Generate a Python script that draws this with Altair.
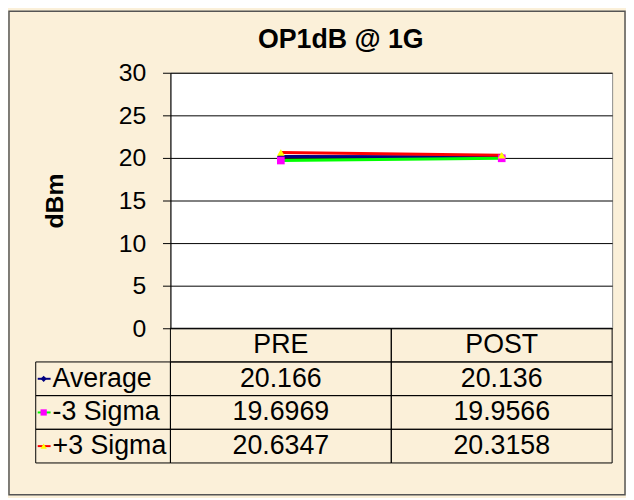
import altair as alt
import pandas as pd

# ---------------- data ----------------
chart_title = "OP1dB @ 1G"
y_title = "dBm"
categories = ["PRE", "POST"]
series = ["Average", "-3 Sigma", "+3 Sigma"]
avg_vals = [20.166, 20.136]
minus3_vals = [19.6969, 19.9566]
plus3_vals = [20.6347, 20.3158]
y_ticks = [0, 5, 10, 15, 20, 25, 30]

line_colors = ["#000080", "#00FF00", "#FF0000"]
marker_fills = ["#000080", "#FF00FF", "#FFFF00"]
marker_shapes = ["diamond", "square", "triangle-up"]

# ---------------- layout ----------------
FONT = "Liberation Sans"
FS = 25
TFS = 27                 # table font size
W, H = 446, 258          # plot area
TABLE_H = 136            # table under the plot
LABEL_COL = 136          # width of row-label column (left of plot)
BG = "#FBF0D9"

values_by_series = dict(zip(series, [avg_vals, minus3_vals, plus3_vals]))
rows = ["header"] + series

pts = pd.DataFrame(
    [{"series": s, "cat": c, "value": v}
     for s in series for c, v in zip(categories, values_by_series[s])]
)
cells = pd.DataFrame(
    [{"row": "header", "cat": c, "txt": c} for c in categories]
    + [{"row": s, "cat": c, "txt": str(v)}
       for s in series for c, v in zip(categories, values_by_series[s])]
)
labels = pd.DataFrame({"row": series, "series": series})

x_scale = alt.Scale(type="band", domain=categories, paddingInner=0, paddingOuter=0)
x_enc = alt.X("cat:N", scale=x_scale, axis=None)
row_scale = alt.Scale(type="band", domain=rows, range=[H, H + TABLE_H],
                      paddingInner=0, paddingOuter=0)
row_enc = alt.Y("row:N", scale=row_scale, axis=None)
color_scale = alt.Scale(domain=series, range=line_colors)
fill_scale = alt.Scale(domain=series, range=marker_fills)
shape_scale = alt.Scale(domain=series, range=marker_shapes)

y_scale = alt.Scale(domain=[0, 30], nice=False, zero=True)
y_axis = alt.Axis(
    values=y_ticks, title=y_title, grid=True, gridColor="#000000", gridWidth=1,
    domainColor="#000000", tickColor="#000000", tickSize=8,
    labelFont=FONT, labelFontSize=FS, labelColor="#000000", labelPadding=17,
    titleFont=FONT, titleFontSize=FS, titleFontWeight="bold", titleColor="#000000",
    titleAngle=270, titleX=-117, titleY=H / 2, titleAlign="center",
    titleBaseline="middle",
)

# decorative frame round the whole chart
frame = alt.Chart(alt.Data(values=[{}])).mark_rect(
    fill="white", fillOpacity=0, stroke="#555555", strokeWidth=1.5
).encode(
    x=alt.value(-163), x2=alt.value(W + 13),
    y=alt.value(-62), y2=alt.value(H + 168),
)

title_mark = alt.Chart(alt.Data(values=[{"t": chart_title}])).mark_text(
    font=FONT, fontSize=27, fontWeight="bold", color="#000000",
    align="center", baseline="middle",
).encode(x=alt.value(172), y=alt.value(-33), text="t:N")

lines = alt.Chart(pts).mark_line(strokeWidth=3).encode(
    x=x_enc,
    y=alt.Y("value:Q", scale=y_scale, axis=y_axis),
    color=alt.Color("series:N", scale=color_scale, legend=None),
    order=alt.Order("cat_order:Q"),
).transform_calculate(cat_order="datum.cat == 'PRE' ? 0 : 1")

points = alt.Chart(pts).mark_point(filled=True, opacity=1, size=60).encode(
    x=x_enc,
    y=alt.Y("value:Q", scale=y_scale, axis=None),
    fill=alt.Fill("series:N", scale=fill_scale, legend=None),
    shape=alt.Shape("series:N", scale=shape_scale, legend=None),
)

cell_rects = alt.Chart(cells).mark_rect(
    fill="white", fillOpacity=0, stroke="#000000", strokeWidth=1
).encode(x=x_enc, y=row_enc)

cell_text = alt.Chart(cells).mark_text(
    font=FONT, fontSize=TFS, color="#000000", baseline="middle", align="center"
).encode(x=x_enc, y=row_enc, text="txt:N")

label_rects = alt.Chart(labels).mark_rect(
    fill="white", fillOpacity=0, stroke="#000000", strokeWidth=1
).encode(x=alt.value(-LABEL_COL), x2=alt.value(0), y=row_enc)

label_text = alt.Chart(labels).mark_text(
    font=FONT, fontSize=TFS, color="#000000", baseline="middle", align="left"
).encode(x=alt.value(-119), y=row_enc, text="series:N")

label_lines = alt.Chart(labels).mark_rule(strokeWidth=2).encode(
    x=alt.value(-LABEL_COL + 2), x2=alt.value(-121), y=row_enc,
    color=alt.Color("series:N", scale=color_scale, legend=None),
)

label_marks = alt.Chart(labels).mark_point(filled=True, opacity=1, size=40).encode(
    x=alt.value(-128), y=row_enc,
    fill=alt.Fill("series:N", scale=fill_scale, legend=None),
    shape=alt.Shape("series:N", scale=shape_scale, legend=None),
)

chart = alt.layer(
    frame, title_mark, lines, points, cell_rects, cell_text,
    label_rects, label_lines, label_marks, label_text,
).resolve_scale(y="independent").properties(
    width=W, height=H,
    autosize=alt.AutoSizeParams(type="none"),
    padding={"left": 164, "top": 63, "right": 14, "bottom": 169},
    background=BG,
).configure_view(
    fill="white", stroke="#8C8C8C", strokeWidth=1
)

chart.save("out.html", embed_options={"renderer": "svg", "actions": False})
